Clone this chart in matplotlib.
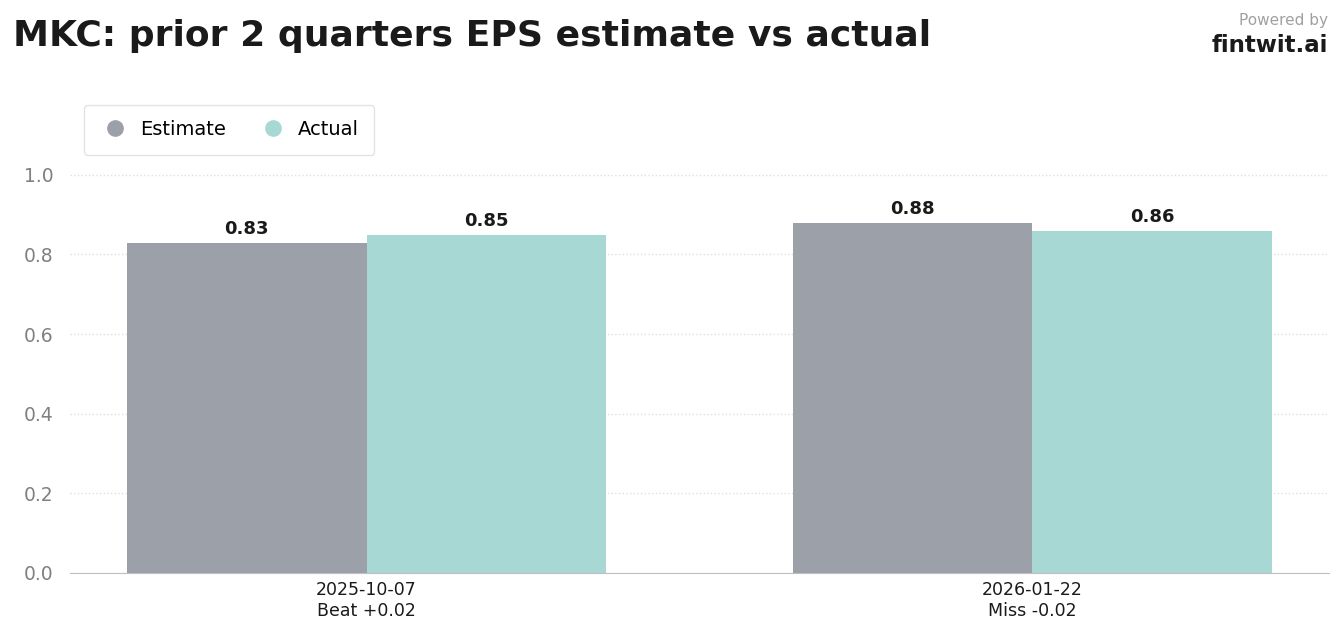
import matplotlib
matplotlib.use("Agg")
import matplotlib.pyplot as plt
from matplotlib.lines import Line2D
import numpy as np

dates = ["2025-10-07", "2026-01-22"]
results = ["Beat +0.02", "Miss -0.02"]
estimate = [0.83, 0.88]
actual = [0.85, 0.86]

fig = plt.figure(figsize=(13.41, 6.31), dpi=100)
ax = fig.add_axes([70/1341, 58/631, 1259/1341, 438/631])
x = np.arange(len(dates))
w = 0.36
c_est, c_act = "#9ca0a8", "#a8d8d4"
ax.bar(x - w/2, estimate, w, color=c_est)
ax.bar(x + w/2, actual, w, color=c_act)
for xi, v in zip(x - w/2, estimate):
    ax.text(xi, v + 0.012, f"{v:.2f}", ha="center", va="bottom", fontsize=13, fontweight="bold", color="#1a1a1a")
for xi, v in zip(x + w/2, actual):
    ax.text(xi, v + 0.012, f"{v:.2f}", ha="center", va="bottom", fontsize=13, fontweight="bold", color="#1a1a1a")
ax.set_xlim(-0.4455, 1.446)
ax.set_ylim(0, 1.1)
ax.set_yticks([0, 0.2, 0.4, 0.6, 0.8, 1.0])
ax.set_yticklabels([f"{t:.1f}" for t in [0, 0.2, 0.4, 0.6, 0.8, 1.0]], fontsize=13.5, color="#808080")
ax.set_xticks(x)
ax.set_xticklabels([f"{d}\n{r}" for d, r in zip(dates, results)], fontsize=12.5, color="#1a1a1a")
ax.tick_params(length=0, pad=6)
ax.tick_params(axis="y", pad=12)
for s in ["top", "right", "left"]:
    ax.spines[s].set_visible(False)
ax.spines["bottom"].set_color("#c0c0c0")
ax.grid(axis="y", linestyle=":", color="#e0e0e0", linewidth=1)
ax.set_axisbelow(True)
handles = [Line2D([], [], marker="o", ls="", color=c_est, markersize=11, label="Estimate"),
           Line2D([], [], marker="o", ls="", color=c_act, markersize=11, label="Actual")]
fig.legend(handles=handles, loc="upper left", bbox_to_anchor=(74/1341, 1-95/631), ncol=2,
           fontsize=14, frameon=True, edgecolor="#dddddd", borderpad=0.8, columnspacing=1.6,
           handletextpad=0.5, handlelength=1.6, fancybox=True)
fig.text(13/1341, 1-36/631, "MKC: prior 2 quarters EPS estimate vs actual", fontsize=26, fontweight="bold", color="#1a1a1a", va="center")
fig.text(1328/1341, 1-20/631, "Powered by", fontsize=11, color="#a0a0a0", ha="right", va="center")
fig.text(1328/1341, 1-46/631, "fintwit.ai", fontsize=16.5, fontweight="bold", color="#1a1a1a", ha="right", va="center")
fig.savefig("out.png", dpi=100)
